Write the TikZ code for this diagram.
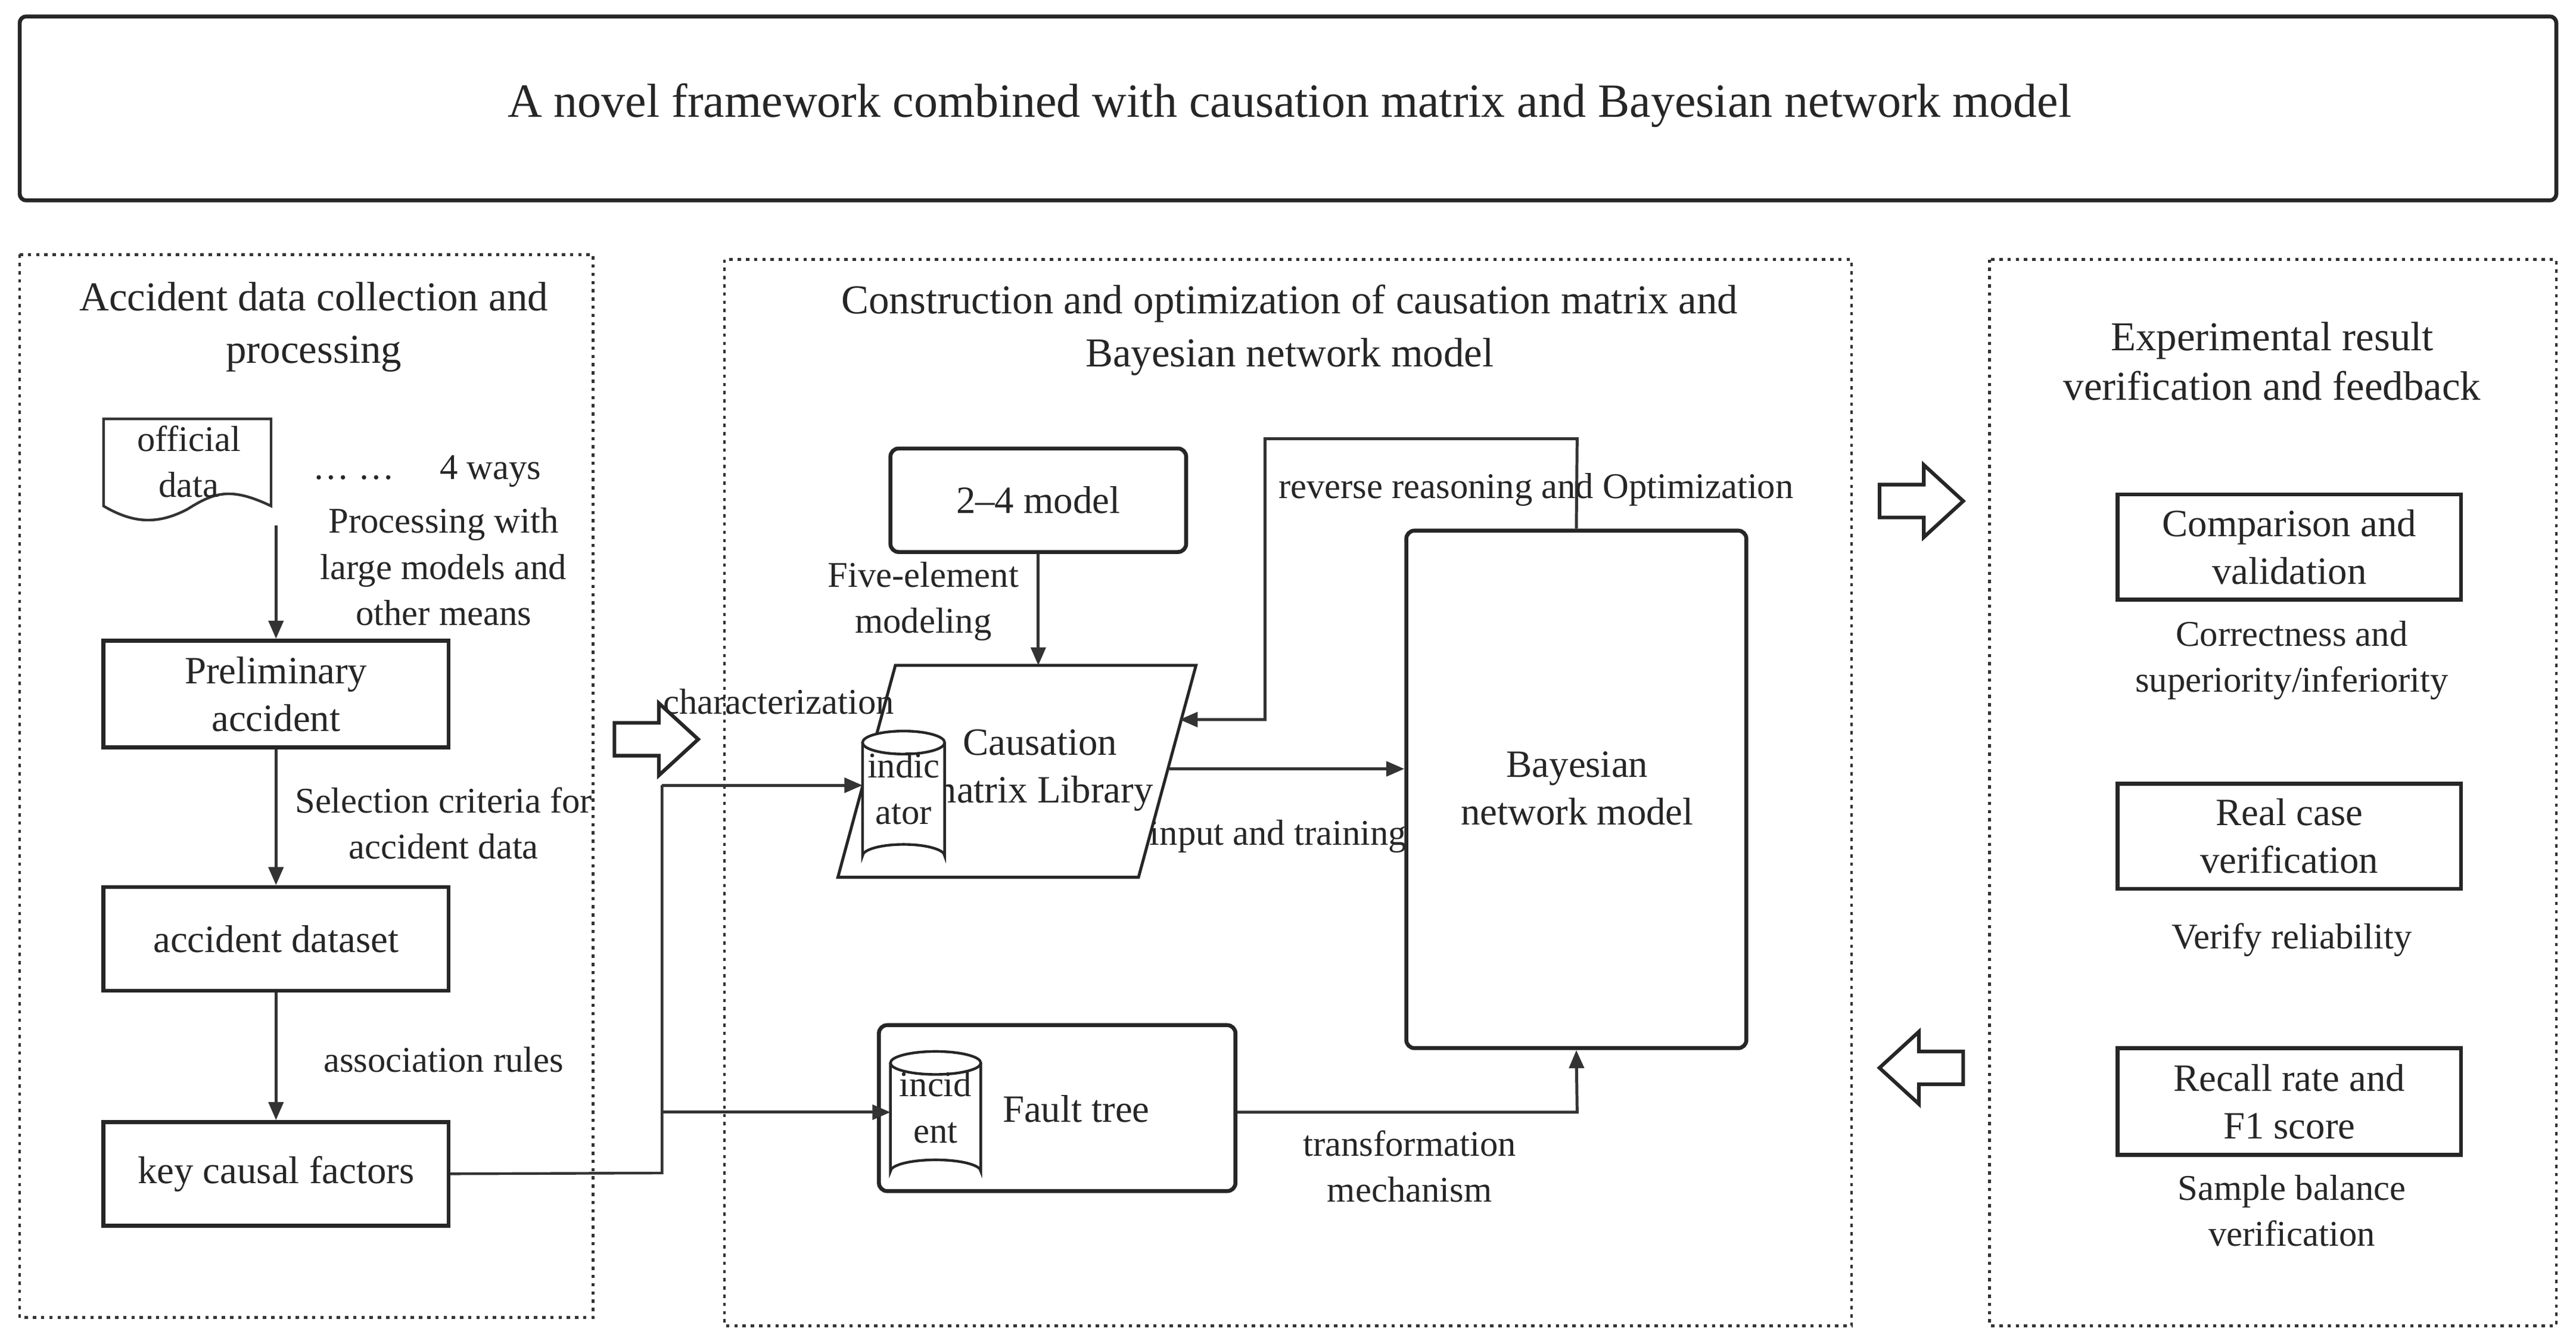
\documentclass[tikz,border=0pt]{standalone}
\usepackage{fontspec}
\setmainfont{Liberation Serif}
\usetikzlibrary{arrows.meta}
\begin{document}
\begin{tikzpicture}[x=1pt,y=-1pt,
  txt/.style={font=\fontsize{22}{28}\selectfont,align=center,inner sep=0pt,text=black!85},
  btxt/.style={font=\fontsize{23.5}{29}\selectfont,align=center,inner sep=0pt,text=black!85},
  box/.style={draw=black!85,line width=2.4pt},
  dbox/.style={draw=black!80,line width=1.6pt,dash pattern=on 2pt off 3pt},
  arr/.style={draw=black!80,line width=1.8pt,-{Triangle[length=11pt,width=9pt]}},
  ln/.style={draw=black!80,line width=1.6pt},
  hol/.style={draw=black!85,line width=2.2pt,fill=white,line join=miter},
  cyl/.style={draw=black!85,line width=1.6pt,fill=white}]
\useasboundingbox (0,0) rectangle (1568,818);
% title
\draw[box,rounded corners=4pt] (12,10) rectangle (1556,122);
\node[txt,font=\fontsize{29}{30}\selectfont] (title) at (785,64) {A novel framework combined with causation matrix and Bayesian network model};
% left
\draw[dbox] (12,155) rectangle (361,802);
\node[txt,font=\fontsize{25}{32}\selectfont] (lt) at (191,199) {Accident data collection and\\processing};
\draw[ln,fill=white] (63,255) -- (165,255) -- (165,308) .. controls (140,296) and (130,300) .. (114,310) .. controls (95,320) and (80,318) .. (63,308) -- cycle;
\node[txt] (off) at (115,281) {official\\data};
\node[txt] (ways) at (260,287) {\dots\ \dots\quad\ 4 ways};
\node[txt] (proc) at (270,345) {Processing with\\large models and\\other means};
\coordinate (offb) at (168,320);
\node[box,minimum width=210pt,minimum height=65pt,btxt] (pre) at (168,422.5) {Preliminary\\accident};
\node[box,minimum width=210pt,minimum height=63pt,btxt] (ds) at (168,571.5) {accident dataset};
\node[box,minimum width=210pt,minimum height=63pt,btxt] (kcf) at (168,714.5) {key causal factors};
\draw[arr] (offb) -- (pre.north);
\draw[arr] (pre) -- (ds);
\draw[arr] (ds) -- (kcf);
\node[txt] at (270,501) {Selection criteria for\\accident data};
\node[txt] at (270,645) {association rules};
% middle
\draw[dbox] (441,158) rectangle (1127,807);
\node[txt,font=\fontsize{25}{32}\selectfont] at (785,201) {Construction and optimization of causation matrix and\\Bayesian network model};
\node[box,rounded corners=5pt,minimum width=180pt,minimum height=63pt,btxt] (m24) at (632,304.5) {2--4 model};
\node[txt] at (562,366) {Five-element\\modeling};
\draw[draw=black!85,line width=1.8pt] (545,405) -- (728,405) -- (693,534) -- (510,534) -- cycle;
\coordinate (cmltop) at (632,405);
\node[btxt] (cml) at (633,469) {Causation\\matrix Library};
\draw[cyl] (525,452) -- (525,521) arc(180:360:25 and 7) -- (575,452);
\draw[cyl] (550,452) ellipse (25 and 7);
\coordinate (ind) at (525,478);
\node[txt] at (550,480) {indic\\ator};
\draw[arr] (m24) -- (cmltop);
\node[box,rounded corners=5pt,minimum width=207pt,minimum height=315pt] (bn) at (959.5,480.5) {};
\node[btxt] at (960,480) {Bayesian\\network model};
\draw[arr] (712,468) -- (bn.west |- 0,468);
\node[txt] at (778,509) {input and training};
\draw[arr] (bn.north) -- (960,267) -- (770,267) -- (770,438) -- (718,438);
\node[txt] at (935,298) {reverse reasoning and Optimization};
\node[box,rounded corners=5pt,minimum width=217pt,minimum height=101pt] (ft) at (643.5,674.5) {};
\node[btxt] at (655,675) {Fault tree};
\draw[cyl] (542,647) -- (542,713) arc(180:360:27.5 and 7) -- (597,647);
\draw[cyl] (569.5,647) ellipse (27.5 and 7);
\coordinate (inc) at (542,677);
\node[txt] at (569.5,674) {incid\\ent};
\draw[arr] (ft.east |- 0,677) -- (960,677) -- (bn.south);
\node[txt] at (858,710) {transformation\\mechanism};
\draw[ln] (kcf.east) -- (403,714) -- (403,478);
\draw[arr] (403,478) -- (ind);
\draw[arr] (403,677) -- (inc);
\node[txt] at (474,427) {characterization};
\draw[hol] (374,440) -- (401,440) -- (401,428) -- (425,450) -- (401,472) -- (401,460) -- (374,460) -- cycle;
% right
\draw[dbox] (1211,158) rectangle (1556,807);
\node[txt,font=\fontsize{25}{30}\selectfont] at (1383,220) {Experimental result\\verification and feedback};
\draw[hol] (1144,295) -- (1171,295) -- (1171,283) -- (1195,305) -- (1171,327) -- (1171,315) -- (1144,315) -- cycle;
\draw[hol] (1195,640) -- (1168,640) -- (1168,628) -- (1144,650) -- (1168,672) -- (1168,660) -- (1195,660) -- cycle;
\node[box,minimum width=209pt,minimum height=64pt,btxt] (cv) at (1393.5,333) {Comparison and\\validation};
\node[txt] at (1395,402) {Correctness and\\superiority/inferiority};
\node[box,minimum width=209pt,minimum height=64pt,btxt] (rc) at (1393.5,509) {Real case\\verification};
\node[txt] at (1395,572) {Verify reliability};
\node[box,minimum width=209pt,minimum height=65pt,btxt] (rr) at (1393.5,670.5) {Recall rate and\\F1 score};
\node[txt] at (1395,737) {Sample balance\\verification};
\end{tikzpicture}
\end{document}
